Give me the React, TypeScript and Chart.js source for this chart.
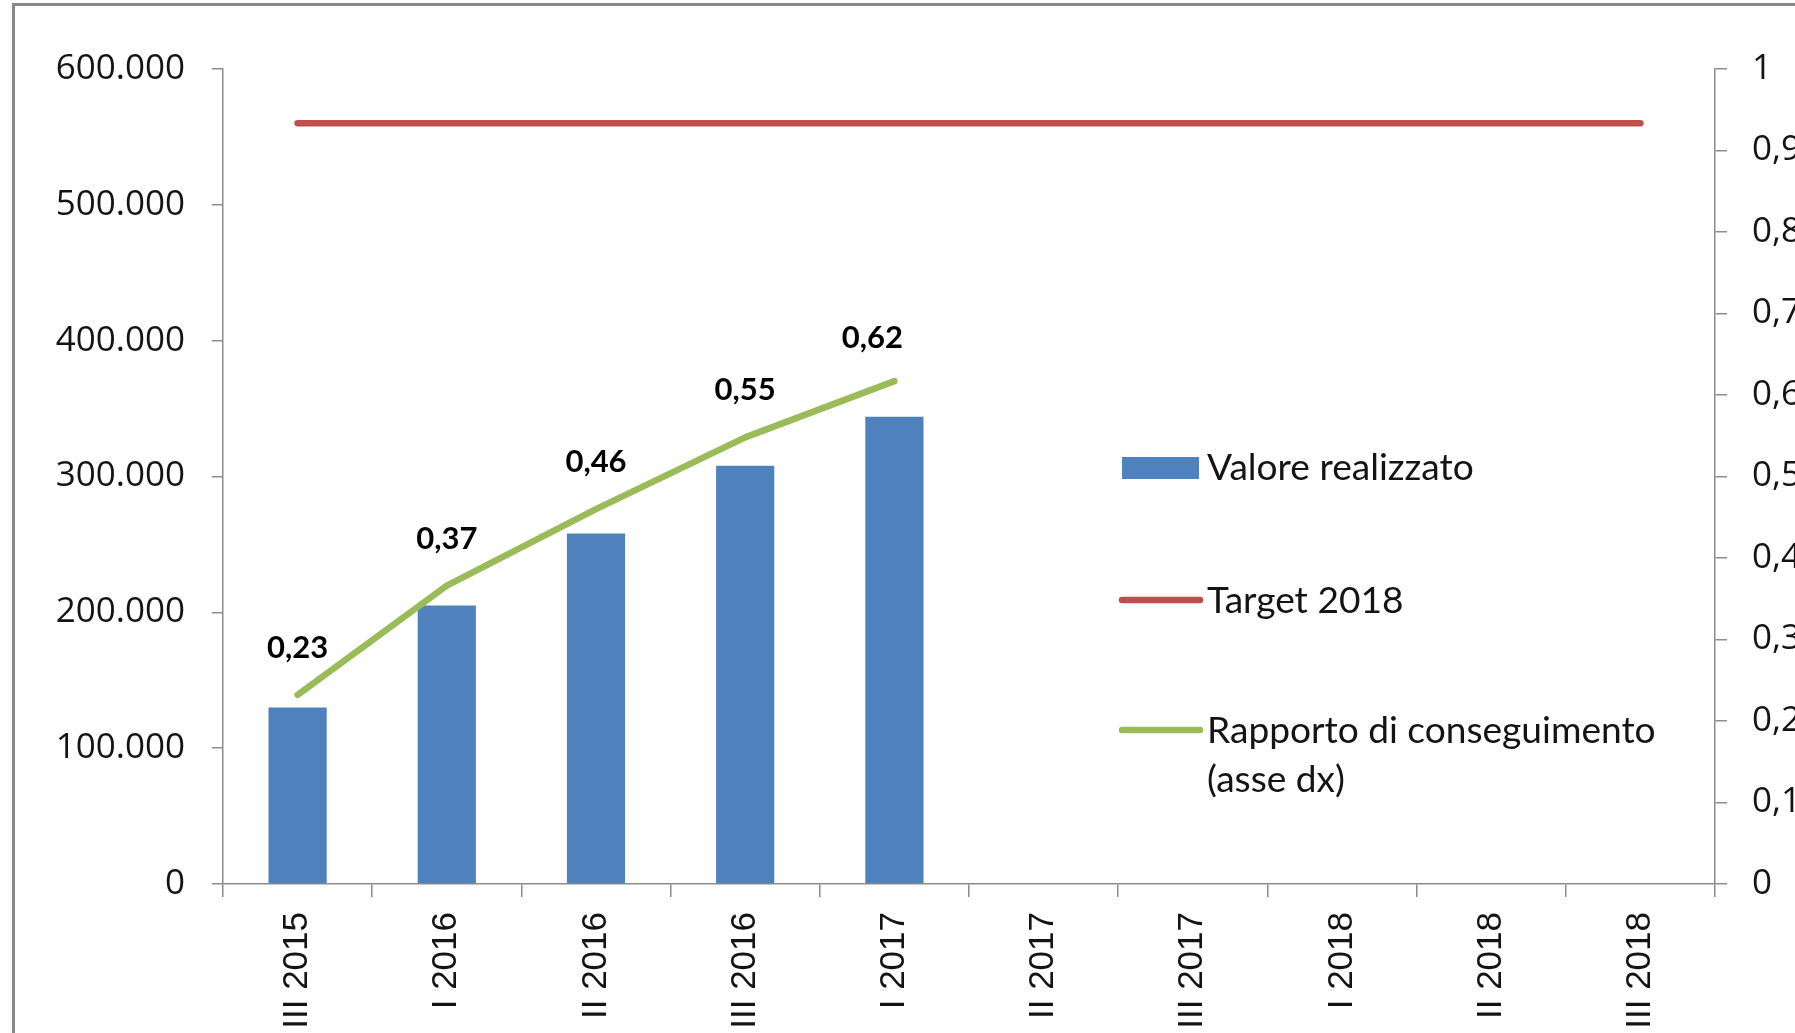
import React, { useEffect, useRef } from 'react';
import { Chart, registerables } from 'chart.js';

Chart.register(...registerables);

const categories = ['III 2015', 'I 2016', 'II 2016', 'III 2016', 'I 2017', 'II 2017', 'III 2017', 'I 2018', 'II 2018', 'III 2018'];
const valoreRealizzato = [130000, 205000, 258000, 308000, 344000, null, null, null, null, null];
const target2018 = [560000, 560000, 560000, 560000, 560000, 560000, 560000, 560000, 560000, 560000];
const rapportoConseguimento = [0.232, 0.366, 0.46, 0.548, 0.617, null, null, null, null, null];
const seriesLabels = ['Valore realizzato', 'Target 2018', 'Rapporto di conseguimento (asse dx)'];

const BLUE = '#4F81BD';
const RED = '#C0504D';
const GREEN = '#9BBB59';
const AXIS = '#8c8c8c';
const TEXT = '#141414';

const fmtThousands = (v: number) => String(Math.round(v)).replace(/\B(?=(\d{3})+(?!\d))/g, '.');
const fmtDec = (v: number, d: number) => (v === 0 ? '0' : v === 1 ? '1' : v.toFixed(d).replace('.', ','));

const borderPlugin = {
  id: 'outerBorder',
  beforeDraw(chart: any) {
    const ctx = chart.ctx;
    ctx.save();
    ctx.strokeStyle = '#878787';
    ctx.lineWidth = 3;
    ctx.strokeRect(13.5, 4.5, chart.width + 50, chart.height + 50);
    ctx.restore();
  },
};

const dataLabelPlugin = {
  id: 'ratioLabels',
  afterDatasetsDraw(chart: any) {
    const ctx = chart.ctx;
    const meta = chart.getDatasetMeta(2);
    const ds = chart.data.datasets[2];
    let lastIdx = -1;
    ds.data.forEach((v: any, i: number) => { if (v != null) lastIdx = i; });
    ctx.save();
    ctx.font = 'bold 31px Lato';
    ctx.fillStyle = '#000';
    ctx.textAlign = 'center';
    ctx.textBaseline = 'middle';
    meta.data.forEach((pt: any, i: number) => {
      const v = ds.data[i];
      if (v == null) return;
      const isLast = i === lastIdx;
      ctx.fillText(fmtDec(v, 2), pt.x + (isLast ? -22 : 0), pt.y - (isLast ? 43 : 47));
    });
    ctx.restore();
  },
};

const legendPlugin = {
  id: 'customLegend',
  afterDraw(chart: any) {
    const ctx = chart.ctx;
    const ds = chart.data.datasets;
    const textX = 1207;
    const sx = 1.03;
    ctx.save();
    ctx.font = '36px Lato';
    ctx.textAlign = 'left';
    ctx.textBaseline = 'alphabetic';
    const txt = (s: string, y: number) => {
      ctx.save();
      ctx.fillStyle = TEXT;
      ctx.translate(textX, y);
      ctx.scale(sx, 1);
      ctx.fillText(s, 0, 0);
      ctx.restore();
    };
    const lineEntry = (color: string, y: number) => {
      ctx.strokeStyle = color;
      ctx.lineWidth = 6.5;
      ctx.lineCap = 'round';
      ctx.beginPath();
      ctx.moveTo(1122, y);
      ctx.lineTo(1200, y);
      ctx.stroke();
    };
    ctx.fillStyle = ds[0].backgroundColor;
    ctx.fillRect(1122, 457, 77, 22);
    txt(ds[0].label, 480);
    lineEntry(ds[1].borderColor, 600);
    txt(ds[1].label, 613);
    lineEntry(ds[2].borderColor, 730);
    const words = String(ds[2].label).split(' ');
    const lines: string[] = [];
    let cur = '';
    words.forEach((w) => {
      const test = cur ? cur + ' ' + w : w;
      if (ctx.measureText(test).width * sx > 470 && cur) {
        lines.push(cur);
        cur = w;
      } else cur = test;
    });
    if (cur) lines.push(cur);
    lines.forEach((l, i) => txt(l, 743 + i * 49));
    ctx.restore();
  },
};

export default function App() {
  const ref = useRef<HTMLCanvasElement | null>(null);
  useEffect(() => {
    document.body.style.margin = '0';
    document.body.style.overflow = 'hidden';
    if (!ref.current) return;
    const chart = new Chart(ref.current, {
      type: 'bar',
      data: {
        labels: categories,
        datasets: [
          {
            type: 'bar',
            label: seriesLabels[0],
            data: valoreRealizzato,
            backgroundColor: BLUE,
            borderWidth: 0,
            categoryPercentage: 1,
            barPercentage: 0.39,
            yAxisID: 'y',
            order: 3,
          } as any,
          {
            type: 'line',
            label: seriesLabels[1],
            data: target2018,
            borderColor: RED,
            backgroundColor: RED,
            borderWidth: 6.5,
            borderCapStyle: 'round',
            pointRadius: 0,
            yAxisID: 'y',
            order: 2,
          },
          {
            type: 'line',
            label: seriesLabels[2],
            data: rapportoConseguimento,
            borderColor: GREEN,
            backgroundColor: GREEN,
            borderWidth: 6.5,
            borderCapStyle: 'round',
            borderJoinStyle: 'round',
            pointRadius: 0,
            spanGaps: false,
            yAxisID: 'y1',
            order: 1,
          },
        ],
      },
      options: {
        responsive: false,
        animation: false,
        layout: { padding: { top: 69, left: 0, right: 0, bottom: 0 } },
        plugins: { legend: { display: false }, tooltip: { enabled: false } },
        scales: {
          x: {
            offset: true,
            grid: { offset: true, drawOnChartArea: false, tickLength: 13, color: AXIS, lineWidth: 1.5 },
            border: { color: AXIS, width: 1.5 },
            ticks: {
              minRotation: 90,
              maxRotation: 90,
              autoSkip: false,
              padding: 15,
              color: TEXT,
              font: { family: 'Liberation Sans', size: 35 },
            },
            afterFit: (s: any) => { s.height = 149; },
          },
          y: {
            position: 'left',
            min: 0,
            max: 600000,
            ticks: {
              stepSize: 100000,
              padding: 27,
              color: TEXT,
              font: { family: 'Open Sans', size: 35 },
              callback: (v: any) => fmtThousands(Number(v)),
            },
            grid: { drawOnChartArea: false, tickLength: 11, color: AXIS, lineWidth: 1.5 },
            border: { color: AXIS, width: 1.5 },
            afterFit: (s: any) => { s.width = 223; },
          },
          y1: {
            position: 'right',
            min: 0,
            max: 1,
            ticks: {
              stepSize: 0.1,
              padding: 25,
              color: TEXT,
              font: { family: 'Open Sans', size: 35 },
              callback: (v: any) => fmtDec(Number(v), 1),
            },
            grid: { drawOnChartArea: false, tickLength: 12, color: AXIS, lineWidth: 1.5 },
            border: { color: AXIS, width: 1.5 },
            afterFit: (s: any) => { s.width = 80; },
          },
        },
      },
      plugins: [borderPlugin, dataLabelPlugin, legendPlugin],
    });
    return () => chart.destroy();
  }, []);
  return (
    <div style={{ width: 1795, height: 1033, background: '#fff' }}>
      <canvas ref={ref} width={1795} height={1033} style={{ display: 'block', width: 1795, height: 1033 }} />
    </div>
  );
}
